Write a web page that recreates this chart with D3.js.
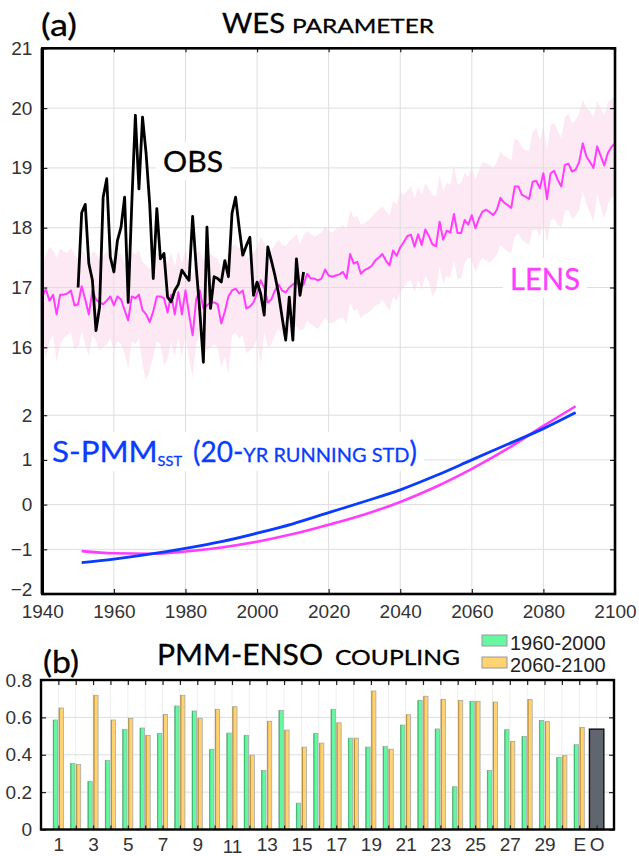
<!DOCTYPE html>
<html>
<head>
<meta charset="utf-8">
<script src="https://cdn.jsdelivr.net/npm/d3@7"></script>
<style>
  body { margin: 0; background: #fff; }
  text { font-family: "Liberation Sans", Arial, sans-serif; }
  .ttl { font-family: Lato, "DejaVu Sans", sans-serif; stroke-width: 0.3; }
</style>
</head>
<body>
<div id="chart"></div>
<script>
// ---- data: panel (a) ----
const lensYears = d3.range(1940, 2101);
const lensMean = [
  16.85, 16.97, 16.78, 16.88, 16.55, 16.88, 16.88, 16.90, 16.95, 16.70,
  16.72, 17.02, 16.80, 16.55, 16.95, 16.80, 16.75, 16.72, 16.78, 16.85,
  16.70, 16.85, 16.80, 16.62, 16.45, 16.85, 16.82, 16.88, 16.62, 16.55,
  16.42, 16.60, 16.85, 16.85, 16.82, 16.58, 16.88, 16.55, 16.92, 16.55,
  16.95, 16.55, 16.20, 16.80, 16.95, 16.65, 16.70, 16.75, 16.75, 16.72,
  16.40, 16.60, 16.85, 16.95, 16.98, 16.90, 16.95, 16.65, 16.68, 16.75,
  16.90, 17.12, 17.00, 16.75, 16.80, 16.95, 17.05, 16.95, 16.92, 17.00,
  17.05, 17.10, 17.00, 17.05, 17.23, 17.15, 17.15, 17.12, 17.15, 17.30,
  17.20, 17.18, 17.20, 17.22, 17.26, 17.15, 17.56, 17.40, 17.43, 17.23,
  17.29, 17.32, 17.36, 17.45, 17.50, 17.56, 17.45, 17.37, 17.62, 17.53,
  17.67, 17.76, 17.86, 17.88, 17.68, 17.89, 17.71, 17.97, 17.86, 17.72,
  17.69, 18.10, 17.80, 17.95, 17.92, 18.23, 17.91, 17.91, 18.13, 18.05,
  18.21, 17.99, 18.15, 18.27, 18.30, 18.26, 18.21, 18.30, 18.50, 18.42,
  18.38, 18.33, 18.69, 18.69, 18.55, 18.52, 18.48, 18.77, 18.78, 18.66,
  18.91, 18.48, 18.91, 18.95, 18.80, 18.69, 19.05, 19.07, 18.94, 18.97,
  19.10, 19.41, 19.19, 19.10, 19.00, 19.36, 19.20, 19.04, 19.25, 19.35,
  19.41
];
const lensHigh = [
  17.35, 17.55, 17.68, 17.62, 17.50, 17.65, 17.60, 17.58, 17.66, 17.55,
  17.48, 17.62, 17.55, 17.40, 17.60, 17.58, 17.45, 17.52, 17.62, 17.50,
  17.45, 17.58, 17.55, 17.40, 17.35, 17.60, 17.55, 17.62, 17.42, 17.38,
  17.30, 17.45, 17.58, 17.55, 17.60, 17.40, 17.58, 17.35, 17.62, 17.40,
  17.65, 17.38, 17.20, 17.55, 17.62, 17.45, 17.50, 17.55, 17.52, 17.48,
  17.30, 17.42, 17.60, 17.70, 17.72, 17.65, 17.70, 17.48, 17.52, 17.58,
  17.66, 17.85, 17.75, 17.55, 17.62, 17.72, 17.80, 17.72, 17.70, 17.78,
  17.82, 17.90, 17.72, 17.88, 17.95, 17.90, 17.85, 17.88, 17.92, 18.02,
  17.95, 17.92, 17.98, 18.00, 18.05, 17.95, 18.30, 18.17, 18.20, 18.05,
  18.08, 18.12, 18.18, 18.25, 18.30, 18.36, 18.28, 18.20, 18.45, 18.38,
  18.60, 18.55, 18.62, 18.70, 18.50, 18.68, 18.55, 18.75, 18.65, 18.55,
  18.52, 18.88, 18.62, 18.75, 18.72, 19.05, 18.72, 18.75, 18.92, 18.85,
  19.00, 18.80, 18.95, 19.10, 19.08, 19.05, 19.00, 19.10, 19.28, 19.20,
  19.18, 19.12, 19.50, 19.45, 19.35, 19.30, 19.28, 19.60, 19.67, 19.45,
  19.70, 19.30, 19.72, 19.75, 19.62, 19.50, 19.85, 19.90, 19.75, 19.80,
  19.92, 20.15, 20.00, 19.95, 19.85, 20.12, 20.00, 19.88, 20.08, 20.15,
  20.20
];
const lensLow = [
  16.25, 15.80, 16.10, 16.20, 15.75, 16.05, 16.15, 16.20, 16.25, 15.95,
  16.00, 16.25, 16.05, 15.85, 16.20, 16.10, 15.95, 16.00, 16.05, 16.15,
  15.95, 16.10, 16.05, 15.90, 15.65, 16.10, 16.05, 16.15, 15.70, 15.45,
  15.60, 15.85, 16.10, 16.05, 15.70, 15.80, 16.10, 15.85, 16.15, 15.85,
  16.20, 15.80, 15.50, 16.05, 16.20, 15.90, 15.95, 16.00, 16.05, 16.00,
  15.65, 15.85, 15.55, 16.20, 16.25, 16.15, 16.20, 15.90, 15.95, 16.00,
  16.15, 15.70, 16.25, 16.00, 16.05, 16.20, 16.30, 16.20, 16.15, 16.25,
  16.30, 16.35, 16.28, 16.30, 16.45, 16.38, 16.35, 16.30, 16.40, 16.50,
  16.42, 16.40, 16.45, 16.48, 16.50, 16.40, 16.75, 16.60, 16.65, 16.48,
  16.55, 16.58, 16.62, 16.70, 16.72, 16.80, 16.70, 16.60, 16.85, 16.78,
  16.92, 17.00, 17.10, 17.12, 16.92, 17.12, 16.95, 17.20, 17.10, 16.85,
  16.95, 17.35, 17.05, 17.20, 17.15, 17.45, 17.15, 17.15, 17.40, 17.50,
  17.45, 17.25, 17.40, 17.50, 17.45, 17.42, 17.48, 17.55, 17.72, 17.65,
  17.60, 17.58, 17.85, 17.90, 17.80, 17.75, 17.72, 17.95, 17.98, 17.85,
  18.10, 17.75, 18.12, 18.15, 18.05, 18.00, 18.28, 18.30, 18.15, 18.20,
  18.30, 18.60, 18.40, 18.25, 18.10, 18.55, 18.35, 18.15, 18.40, 18.50,
  18.55
];
const obsYears = d3.range(1950, 2014);
const obsWes = [
  17.00, 18.25, 18.39, 17.40, 17.12, 16.28, 16.67, 18.51, 18.82, 17.51,
  17.26, 17.79, 18.01, 18.51, 16.75, 18.40, 19.88, 18.65, 19.85, 19.24,
  18.40, 17.15, 18.32, 17.48, 17.57, 16.84, 16.76, 16.95, 17.05, 17.29,
  17.20, 17.12, 18.19, 17.34, 16.60, 15.75, 18.01, 16.65, 17.18, 17.15,
  17.09, 17.45, 17.18, 18.24, 18.51, 18.00, 17.54, 17.70, 17.84, 16.87,
  17.09, 16.90, 16.54, 17.68, 17.45, 17.20, 16.90, 16.50, 16.12, 16.84,
  16.12, 17.48, 16.87, 17.26
];
// S-PMM SST (standardised 20-yr running std)
const spmmYears = [1951, 1960, 1970, 1980, 1990, 2000, 2010, 2020, 2030, 2040, 2050, 2060, 2070, 2080, 2089];
const spmmBlue = [-1.30, -1.22, -1.11, -0.98, -0.83, -0.64, -0.43, -0.18, 0.07, 0.33, 0.65, 1.00, 1.35, 1.70, 2.06];
const spmmPink = [-1.04, -1.09, -1.10, -1.05, -0.96, -0.83, -0.66, -0.45, -0.22, 0.06, 0.40, 0.80, 1.25, 1.76, 2.20];
const yearTicks = [1940, 1960, 1980, 2000, 2020, 2040, 2060, 2080, 2100];
const wesTicks = [16, 17, 18, 19, 20, 21];
const spmmTicks = [-2, -1, 0, 1, 2];

// ---- data: panel (b) ----
const models = ["1","2","3","4","5","6","7","8","9","10","11","12","13","14","15","16",
  "17","18","19","20","21","22","23","24","25","26","27","28","29","30","E","O"];
const coupling1960 = [0.586, 0.354, 0.257, 0.370, 0.536, 0.543, 0.514, 0.661, 0.634, 0.429,
  0.516, 0.504, 0.316, 0.637, 0.141, 0.514, 0.643, 0.489, 0.441, 0.445,
  0.559, 0.691, 0.538, 0.229, 0.686, 0.316, 0.534, 0.498, 0.584, 0.386, 0.454];
const coupling2060 = [0.650, 0.348, 0.718, 0.586, 0.595, 0.504, 0.616, 0.718, 0.595, 0.643,
  0.657, 0.398, 0.579, 0.532, 0.441, 0.462, 0.571, 0.489, 0.741, 0.430,
  0.614, 0.713, 0.696, 0.691, 0.686, 0.682, 0.471, 0.696, 0.577, 0.395, 0.546];
const couplingObs = 0.537;
const couplingTicks = [0, 0.2, 0.4, 0.6, 0.8];
const modelLabels = ["1","3","5","7","9","11","13","15","17","19","21","23","25","27","29","E","O"];

const MAGENTA = "#ff3dff", BLUE = "#0a3cff", GRID = "#dedede";

const svg = d3.select("#chart").append("svg")
  .attr("width", 639).attr("height", 856);

// text with fixed width (title font is not available, so stretch to fit)
// spans: [{text, size, dy}]
function piece(g, xp, yp, spans, width, color) {
  const t = g.append("text").attr("class", "ttl")
    .attr("x", xp).attr("y", yp)
    .attr("fill", color).attr("stroke", color)
    .attr("textLength", width).attr("lengthAdjust", "spacingAndGlyphs");
  spans.forEach(s => {
    const ts = t.append("tspan").attr("font-size", s.size).text(s.text);
    if (s.dy) ts.attr("dy", s.dy);
  });
  return t;
}
// label on a white backing that hides the grid
function label(g, parts, color) {
  const t = g.append("g");
  parts.forEach(p => piece(t, p.x, p.y, p.spans, p.w, color));
  const bb = t.node().getBBox();
  g.insert("rect", ":first-child").attr("x", bb.x - 7).attr("y", bb.y - 2)
    .attr("width", bb.width + 14).attr("height", bb.height + 4).attr("fill", "#fff");
}

// ================= panel (a) =================
const pa = { left: 42.3, right: 615, top: 48.3, bottom: 594 };
const x = d3.scaleLinear().domain([1940, 2100]).range([pa.left, pa.right]);
const yTop = d3.scaleLinear().domain([16, 21]).range([347.3, pa.top]);
const yBot = d3.scaleLinear().domain([-2, 2]).range([pa.bottom, 415.2]);

svg.append("clipPath").attr("id", "clipA").append("rect")
  .attr("x", pa.left).attr("y", pa.top)
  .attr("width", pa.right - pa.left).attr("height", pa.bottom - pa.top);

const gA = svg.append("g");
const plotA = gA.append("g").attr("clip-path", "url(#clipA)");

const lens = lensYears.map((yr, i) => ({ year: yr, mean: lensMean[i], hi: lensHigh[i], lo: lensLow[i] }));

// ensemble spread
plotA.append("path").datum(lens)
  .attr("fill", "#fde9f3")
  .attr("d", d3.area().x(d => x(d.year)).y0(d => yTop(d.lo)).y1(d => yTop(d.hi)));

// grid
plotA.selectAll(".vgrid").data(yearTicks.slice(1, -1)).enter().append("line")
  .attr("x1", d => x(d)).attr("x2", d => x(d))
  .attr("y1", pa.top).attr("y2", pa.bottom)
  .attr("stroke", GRID).attr("stroke-width", 1);
plotA.selectAll(".hgridT").data(wesTicks.slice(0, -1)).enter().append("line")
  .attr("x1", pa.left).attr("x2", pa.right)
  .attr("y1", d => yTop(d)).attr("y2", d => yTop(d))
  .attr("stroke", GRID).attr("stroke-width", 1);
plotA.selectAll(".hgridB").data(spmmTicks.slice(1)).enter().append("line")
  .attr("x1", pa.left).attr("x2", pa.right)
  .attr("y1", d => yBot(d)).attr("y2", d => yBot(d))
  .attr("stroke", GRID).attr("stroke-width", 1);

// LENS mean
plotA.append("path").datum(lens)
  .attr("fill", "none").attr("stroke", MAGENTA).attr("stroke-width", 2)
  .attr("stroke-linejoin", "round")
  .attr("d", d3.line().x(d => x(d.year)).y(d => yTop(d.mean)));

const labelsA = plotA.append("g");
label(labelsA.append("g"), [{ spans: [{ text: "OBS", size: 28 }], x: 163, y: 172, w: 60 }], "#000");
label(labelsA.append("g"), [{ spans: [{ text: "LENS", size: 30 }], x: 510, y: 290, w: 70 }], MAGENTA);
label(labelsA.append("g"), [
  { spans: [{ text: "S-PMM", size: 28 }, { text: "SST", size: 13, dy: 4 }], x: 52, y: 462, w: 130 },
  { spans: [{ text: "(20-", size: 28 }, { text: "YR RUNNING STD", size: 20 }, { text: ")", size: 28 }],
    x: 193, y: 462, w: 224 }
], BLUE);

// OBS
plotA.append("path").datum(obsYears.map((yr, i) => ({ year: yr, v: obsWes[i] })))
  .attr("fill", "none").attr("stroke", "#000").attr("stroke-width", 2.8)
  .attr("stroke-linejoin", "round")
  .attr("d", d3.line().x(d => x(d.year)).y(d => yTop(d.v)));

// S-PMM curves
const spLine = d3.line().x(d => x(d.year)).y(d => yBot(d.v)).curve(d3.curveMonotoneX);
plotA.append("path").datum(spmmYears.map((yr, i) => ({ year: yr, v: spmmPink[i] })))
  .attr("fill", "none").attr("stroke", MAGENTA).attr("stroke-width", 2.6).attr("d", spLine);
plotA.append("path").datum(spmmYears.map((yr, i) => ({ year: yr, v: spmmBlue[i] })))
  .attr("fill", "none").attr("stroke", BLUE).attr("stroke-width", 2.8).attr("d", spLine);

// axes
function styleAxis(g) {
  g.select(".domain").remove();
  g.selectAll(".tick line").attr("stroke", "#222").attr("stroke-width", 1.2);
  g.selectAll(".tick text").attr("font-size", 19).attr("fill", "#333")
    .attr("font-family", "'Liberation Sans', Arial, sans-serif");
}
gA.append("g").attr("transform", `translate(${pa.left},0)`)
  .call(d3.axisLeft(yTop).tickValues(wesTicks).tickSize(-5).tickPadding(10).tickFormat(d3.format("d")))
  .call(styleAxis);
gA.append("g").attr("transform", `translate(${pa.left},0)`)
  .call(d3.axisLeft(yBot).tickValues(spmmTicks).tickSize(-5).tickPadding(10).tickFormat(d3.format("d")))
  .call(styleAxis)
  .selectAll(".tick text").filter(d => d === -2).attr("dy", "0.1em");
gA.append("g").attr("transform", `translate(${pa.right},0)`)
  .call(d3.axisRight(yTop).tickValues(wesTicks).tickSize(-5).tickFormat(""))
  .call(styleAxis);
gA.append("g").attr("transform", `translate(${pa.right},0)`)
  .call(d3.axisRight(yBot).tickValues(spmmTicks).tickSize(-5).tickFormat(""))
  .call(styleAxis);
gA.append("g").attr("transform", `translate(0,${pa.bottom})`)
  .call(d3.axisBottom(x).tickValues(yearTicks).tickSize(-5).tickPadding(11).tickFormat(d3.format("d")))
  .call(styleAxis);
gA.append("g").attr("transform", `translate(0,${pa.top})`)
  .call(d3.axisTop(x).tickValues(yearTicks).tickSize(-4).tickFormat(""))
  .call(styleAxis);

gA.append("rect").attr("x", pa.left).attr("y", pa.top)
  .attr("width", pa.right - pa.left).attr("height", pa.bottom - pa.top)
  .attr("fill", "none").attr("stroke", "#000").attr("stroke-width", 2.6);
gA.append("line").attr("x1", pa.left).attr("x2", pa.left).attr("y1", pa.top).attr("y2", pa.bottom)
  .attr("stroke", "#000").attr("stroke-width", 3.4);

// title (a)
piece(svg, 41, 36, [{ text: "(a)", size: 30 }], 36, "#000");
piece(svg, 222, 33, [{ text: "WES", size: 27 }], 63, "#000");
piece(svg, 292, 33, [{ text: "PARAMETER", size: 20 }], 142, "#000");

// ================= panel (b) =================
const pb = { left: 41, right: 614, top: 680, bottom: 829.5 };
const xb = d3.scaleLinear().domain([0, models.length + 1]).range([pb.left, pb.right]);
const yb = d3.scaleLinear().domain([0, 0.8]).range([pb.bottom, pb.top]);
const gB = svg.append("g");

// grid
gB.selectAll(".vg").data(models).enter().append("line")
  .attr("x1", (d, i) => xb(i + 1)).attr("x2", (d, i) => xb(i + 1))
  .attr("y1", pb.top).attr("y2", pb.bottom)
  .attr("stroke", "#efefef").attr("stroke-width", 1);
gB.selectAll(".hg").data(couplingTicks.slice(1, -1)).enter().append("line")
  .attr("x1", pb.left).attr("x2", pb.right)
  .attr("y1", d => yb(d)).attr("y2", d => yb(d))
  .attr("stroke", GRID).attr("stroke-width", 1);

// bars
const barData = coupling1960.map((v, i) => ({ i: i + 1, early: v, late: coupling2060[i] }));
function drawBars(key, off, fill, edge) {
  const g = gB.append("g");
  g.selectAll("rect").data(barData).enter().append("rect")
    .attr("x", d => xb(d.i) + off).attr("width", 4.4)
    .attr("y", d => yb(d[key])).attr("height", d => yb(0) - yb(d[key]))
    .attr("fill", fill).attr("stroke", "#a8a8a8").attr("stroke-width", 0.8);
  g.selectAll("line").data(barData).enter().append("line")
    .attr("x1", d => xb(d.i) + off + 0.4).attr("x2", d => xb(d.i) + off + 0.4)
    .attr("y1", d => yb(d[key])).attr("y2", yb(0))
    .attr("stroke", edge).attr("stroke-width", 0.9);
}
drawBars("early", -5.2, "#66f7a2", "#2fb866");
drawBars("late", 0.6, "#ffd272", "#b88a2e");

gB.append("rect")
  .attr("x", xb(models.length) - 7.2).attr("width", 14.4)
  .attr("y", yb(couplingObs)).attr("height", yb(0) - yb(couplingObs))
  .attr("fill", "#5f666d").attr("stroke", "#111").attr("stroke-width", 1.4);

// axes
gB.append("g").attr("transform", `translate(${pb.left},0)`)
  .call(d3.axisLeft(yb).tickValues(couplingTicks).tickSize(-5).tickPadding(9)
    .tickFormat(d => d === 0 ? "0" : d3.format(".1f")(d)))
  .call(styleAxis);
gB.append("g").attr("transform", `translate(${pb.right},0)`)
  .call(d3.axisRight(yb).tickValues(couplingTicks).tickSize(-5).tickFormat(""))
  .call(styleAxis);
const xbAxis = gB.append("g").attr("transform", `translate(0,${pb.bottom})`)
  .call(d3.axisBottom(xb).tickValues(d3.range(1, models.length + 1)).tickSize(-4).tickPadding(8)
    .tickFormat(i => modelLabels.includes(models[i - 1]) ? models[i - 1] : ""))
  .call(styleAxis);
xbAxis.selectAll(".tick text").filter(i => models[i - 1] === "11").attr("dy", "0.84em");
gB.append("g").attr("transform", `translate(0,${pb.top})`)
  .call(d3.axisTop(xb).tickValues(d3.range(1, models.length + 1)).tickSize(-5).tickFormat(""))
  .call(styleAxis);

gB.append("rect").attr("x", pb.left).attr("y", pb.top)
  .attr("width", pb.right - pb.left).attr("height", pb.bottom - pb.top)
  .attr("fill", "none").attr("stroke", "#000").attr("stroke-width", 2.4);

// title (b)
piece(svg, 43, 673, [{ text: "(b)", size: 30 }], 36, "#000");
piece(svg, 157, 665, [{ text: "PMM-ENSO", size: 28 }], 166, "#000");
piece(svg, 335, 665, [{ text: "COUPLING", size: 22 }], 125, "#000");

// legend
const legend = [
  { name: "1960-2000", fill: "#66f7a2" },
  { name: "2060-2100", fill: "#ffd272" }
];
const lg = svg.append("g").attr("transform", "translate(482,635)");
legend.forEach((d, i) => {
  lg.append("rect").attr("x", 0).attr("y", i * 22).attr("width", 25).attr("height", 11)
    .attr("fill", d.fill).attr("stroke", "#999").attr("stroke-width", 1);
  lg.append("text").attr("x", 28).attr("y", i * 22 + 15).attr("font-size", 20)
    .attr("fill", "#222").text(d.name);
});
</script>
</body>
</html>
